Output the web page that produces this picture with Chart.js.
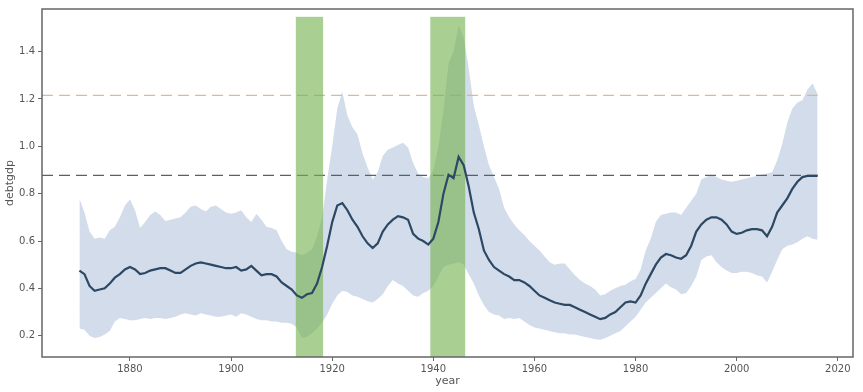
<!DOCTYPE html>
<html>
<head>
<meta charset="utf-8">
<script src="https://cdn.jsdelivr.net/npm/chart.js@4"></script>
<style>
  body { margin: 0; background: #fff; }
  #wrap { width: 863px; height: 392px; }
</style>
</head>
<body>
<div id="wrap"><canvas id="myChart" width="863" height="392"></canvas></div>
<script>
const startYear = 1870;
const years = Array.from({ length: 147 }, (_, i) => startYear + i);

// mean debt/gdp
const debtMean = [
  0.475, 0.46, 0.41, 0.39, 0.395, 0.40, 0.42, 0.445, 0.46, 0.48,
  0.49, 0.48, 0.46, 0.465, 0.475, 0.48, 0.485, 0.485, 0.475, 0.465,
  0.465, 0.48, 0.495, 0.505, 0.51, 0.505, 0.50, 0.495, 0.49, 0.485,
  0.485, 0.49, 0.475, 0.48, 0.495, 0.475, 0.455, 0.46, 0.46, 0.45,
  0.425, 0.41, 0.395, 0.37, 0.36, 0.375, 0.38, 0.42, 0.49, 0.58,
  0.68, 0.75, 0.76, 0.73, 0.69, 0.66, 0.62, 0.59, 0.57, 0.59,
  0.64, 0.67, 0.69, 0.705, 0.70, 0.69, 0.63, 0.61, 0.60, 0.585,
  0.61, 0.68, 0.80, 0.88, 0.865, 0.955, 0.92, 0.83, 0.72, 0.65,
  0.56, 0.52, 0.49, 0.475, 0.46, 0.45, 0.435, 0.435, 0.425, 0.41,
  0.39, 0.37, 0.36, 0.35, 0.34, 0.335, 0.33, 0.33, 0.32, 0.31,
  0.30, 0.29, 0.28, 0.27, 0.275, 0.29, 0.30, 0.32, 0.34, 0.345,
  0.34, 0.37, 0.42, 0.46, 0.50, 0.53, 0.545, 0.54, 0.53, 0.525,
  0.54, 0.58, 0.64, 0.67, 0.69, 0.70, 0.70, 0.69, 0.67, 0.64,
  0.63, 0.635, 0.645, 0.65, 0.65, 0.645, 0.62, 0.66, 0.72, 0.75,
  0.78, 0.82, 0.85, 0.87, 0.875, 0.875, 0.875
];

// upper and lower edge of the shaded band
const debtUpper = [
  0.78, 0.72, 0.64, 0.61, 0.615, 0.61, 0.645, 0.66, 0.70, 0.75,
  0.775, 0.73, 0.655, 0.68, 0.71, 0.725, 0.71, 0.685, 0.69, 0.695,
  0.70, 0.72, 0.745, 0.75, 0.735, 0.725, 0.745, 0.75, 0.735, 0.72,
  0.715, 0.72, 0.73, 0.70, 0.68, 0.715, 0.69, 0.66, 0.655, 0.645,
  0.60, 0.565, 0.555, 0.55, 0.54, 0.55, 0.565, 0.62, 0.70, 0.86,
  1.0, 1.16, 1.23, 1.13, 1.08, 1.05, 0.97, 0.91, 0.86, 0.89,
  0.96, 0.985, 0.995, 1.005, 1.015, 0.995, 0.93, 0.885, 0.87, 0.865,
  0.90, 1.0, 1.15, 1.35, 1.40, 1.51, 1.46, 1.33, 1.17, 1.09,
  1.0, 0.92, 0.87, 0.82, 0.74, 0.70, 0.67, 0.645, 0.625, 0.60,
  0.58, 0.56, 0.535, 0.51, 0.50, 0.505, 0.505, 0.48, 0.455, 0.435,
  0.42, 0.41, 0.395, 0.37, 0.375, 0.39, 0.40, 0.41, 0.415, 0.43,
  0.44, 0.48, 0.56, 0.61, 0.68, 0.71, 0.715, 0.72, 0.72, 0.71,
  0.74, 0.77, 0.80, 0.86, 0.87, 0.88, 0.87, 0.86, 0.855, 0.85,
  0.855, 0.86, 0.865, 0.87, 0.875, 0.88, 0.885, 0.89, 0.94, 1.01,
  1.10, 1.16, 1.185, 1.195, 1.24, 1.265, 1.22
];

const debtLower = [
  0.23, 0.225, 0.20, 0.19, 0.195, 0.205, 0.22, 0.26, 0.275, 0.27,
  0.265, 0.265, 0.27, 0.275, 0.27, 0.275, 0.275, 0.27, 0.275, 0.28,
  0.29, 0.295, 0.29, 0.285, 0.295, 0.29, 0.285, 0.28, 0.28, 0.285,
  0.29, 0.28, 0.295, 0.29, 0.28, 0.27, 0.265, 0.265, 0.26, 0.26,
  0.255, 0.255, 0.25, 0.235, 0.19, 0.195, 0.21, 0.23, 0.255, 0.29,
  0.335, 0.37, 0.39, 0.385, 0.37, 0.365, 0.355, 0.345, 0.34, 0.355,
  0.375, 0.41, 0.435, 0.42, 0.41, 0.39, 0.37, 0.365, 0.38, 0.39,
  0.41, 0.45, 0.49, 0.50, 0.505, 0.51, 0.50, 0.46, 0.42, 0.37,
  0.33, 0.30, 0.29, 0.285, 0.27, 0.275, 0.27, 0.275, 0.26, 0.245,
  0.235, 0.23, 0.225, 0.22, 0.215, 0.21, 0.21, 0.205, 0.205, 0.20,
  0.195, 0.19, 0.185, 0.183, 0.19, 0.20, 0.21, 0.22, 0.24, 0.26,
  0.28, 0.31, 0.34, 0.36, 0.38, 0.40, 0.42, 0.405, 0.395, 0.375,
  0.38, 0.41, 0.45, 0.52, 0.535, 0.54, 0.51, 0.49, 0.475, 0.465,
  0.465, 0.47, 0.47, 0.465, 0.455, 0.45, 0.425, 0.47, 0.52, 0.565,
  0.58, 0.585, 0.595, 0.61, 0.62, 0.61, 0.605
];

// horizontal reference levels
const refLevelLow = 0.877;
const refLevelHigh = 1.215;

// war periods (green bars): [start, end]
const warPeriods = [[1912.8, 1918.2], [1939.4, 1946.3]];
const warTop = 1.547;

const xMin = 1862.6, xMax = 2023;
const yMin = 0.11, yMax = 1.58;

const pts = arr => arr.map((v, i) => ({ x: years[i], y: v }));
const lastYear = years[years.length - 1];

// green bars drawn just before the mean line
const warBands = {
  id: 'warBands',
  beforeDatasetDraw(chart, args) {
    if (args.index !== 0) return;
    const { ctx, scales: { x, y } } = chart;
    ctx.save();
    ctx.fillStyle = 'rgba(118,178,80,0.62)';
    warPeriods.forEach(([a, b]) => {
      const x0 = x.getPixelForValue(a), x1 = x.getPixelForValue(b);
      const y0 = y.getPixelForValue(warTop), y1 = y.getPixelForValue(yMin);
      ctx.fillRect(x0, y0, x1 - x0, y1 - y0);
    });
    ctx.restore();
  }
};

// box around the plot
const frame = {
  id: 'frame',
  afterDraw(chart) {
    const { ctx, chartArea: a } = chart;
    ctx.save();
    ctx.strokeStyle = '#666';
    ctx.lineWidth = 1.5;
    ctx.strokeRect(a.left, a.top, a.right - a.left, a.bottom - a.top);
    ctx.restore();
  }
};

Chart.defaults.font.family = "'DejaVu Sans', sans-serif";
Chart.defaults.color = '#555';

new Chart(document.getElementById('myChart'), {
  type: 'line',
  data: {
    datasets: [
      {
        label: 'debtgdp',
        data: pts(debtMean),
        borderColor: '#2c4864',
        borderWidth: 2.2,
        pointRadius: 0,
        fill: false
      },
      {
        label: 'ref low',
        data: [{ x: xMin, y: refLevelLow }, { x: lastYear, y: refLevelLow }],
        borderColor: '#56616d',
        borderWidth: 1.4,
        borderDash: [11, 6],
        pointRadius: 0,
        fill: false
      },
      {
        label: 'ref high',
        data: [{ x: xMin, y: refLevelHigh }, { x: lastYear, y: refLevelHigh }],
        borderColor: 'rgba(215,180,140,0.9)',
        borderWidth: 1.4,
        borderDash: [11, 6],
        pointRadius: 0,
        fill: false
      },
      {
        label: 'upper',
        data: pts(debtUpper),
        borderWidth: 0,
        borderColor: 'rgba(0,0,0,0)',
        backgroundColor: 'rgba(186,202,222,0.65)',
        pointRadius: 0,
        fill: '+1'
      },
      {
        label: 'lower',
        data: pts(debtLower),
        borderWidth: 0,
        borderColor: 'rgba(0,0,0,0)',
        pointRadius: 0,
        fill: false
      }
    ]
  },
  options: {
    responsive: false,
    animation: false,
    layout: { padding: { left: 0, right: 10, top: 8, bottom: 0 } },
    plugins: {
      legend: { display: false },
      tooltip: { enabled: false }
    },
    scales: {
      x: {
        type: 'linear',
        min: xMin,
        max: xMax,
        afterFit: s => { s.height = 35; },
        grid: { display: true, drawOnChartArea: false, drawTicks: true, tickLength: 4, color: '#666' },
        border: { display: false },
        ticks: {
          stepSize: 20,
          includeBounds: false,
          font: { size: 10 },
          padding: 2,
          maxRotation: 0,
          callback: v => String(v)
        },
        title: { display: true, text: 'year', font: { size: 11 }, padding: { top: 0 } }
      },
      y: {
        min: yMin,
        max: yMax,
        afterFit: s => { s.width = 42; },
        grid: { display: true, drawOnChartArea: false, drawTicks: true, tickLength: 4, color: '#666' },
        border: { display: false },
        ticks: {
          stepSize: 0.2,
          includeBounds: false,
          font: { size: 10 },
          padding: 3,
          callback: v => v.toFixed(1)
        },
        title: { display: true, text: 'debtgdp', font: { size: 11 }, padding: { bottom: 2 } }
      }
    }
  },
  plugins: [warBands, frame]
});
</script>
</body>
</html>
